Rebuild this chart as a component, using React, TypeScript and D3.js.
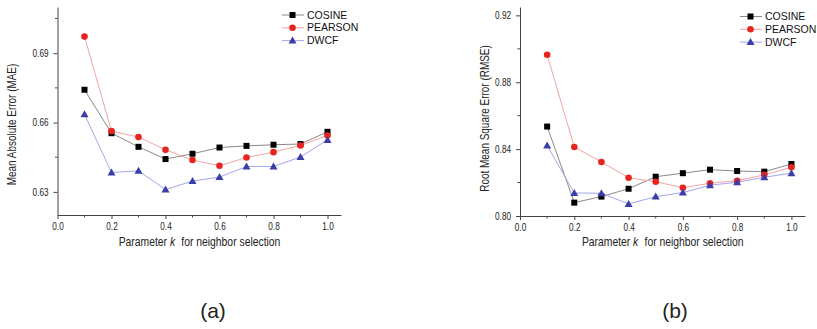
import * as d3 from 'd3';
import { useEffect, useRef } from 'react';

const kValues = [0.1, 0.2, 0.3, 0.4, 0.5, 0.6, 0.7, 0.8, 0.9, 1.0];
const seriesNames = ['COSINE', 'PEARSON', 'DWCF'];

// (a) MAE
const maeCosine = [0.6742, 0.6554, 0.6495, 0.6442, 0.6465, 0.6492, 0.6499, 0.6504, 0.6507, 0.656];
const maePearson = [0.6972, 0.6563, 0.6537, 0.6482, 0.6438, 0.6413, 0.6449, 0.6472, 0.6501, 0.6544];
const maeDwcf = [0.6636, 0.6384, 0.6391, 0.631, 0.6347, 0.6364, 0.641, 0.641, 0.6451, 0.6525];

// (b) RMSE
const rmseCosine = [0.8535, 0.808, 0.8116, 0.8163, 0.8235, 0.8256, 0.8277, 0.8269, 0.8265, 0.8311];
const rmsePearson = [0.8964, 0.8413, 0.8323, 0.8229, 0.8205, 0.8169, 0.8196, 0.8211, 0.8246, 0.8292];
const rmseDwcf = [0.8421, 0.8138, 0.8136, 0.8072, 0.8116, 0.814, 0.8184, 0.8202, 0.8232, 0.8256];

const xTicks = [0, 0.2, 0.4, 0.6, 0.8, 1.0];
const xMinor = [0.1, 0.3, 0.5, 0.7, 0.9];
const maeTicks = [0.63, 0.66, 0.69];
const maeMinor = [0.645, 0.675, 0.705];
const rmseTicks = [0.8, 0.84, 0.88, 0.92];
const rmseMinor = [0.82, 0.86, 0.9];

const styles = [
  { line: '#8a8a8a', fill: '#000000', shape: 'square' },
  { line: '#f6a3a3', fill: '#e8241f', shape: 'circle' },
  { line: '#a3a6f0', fill: '#3a3ea8', shape: 'triangle' },
];

const FONT = 'Liberation Sans, Arial, sans-serif';

type Panel = {
  series: number[][];
  yDomain: [number, number];
  yTicks: number[];
  yMinor: number[];
  yTitle: string;
  x0: number;
  x1: number;
  yTop: number;
  yBottom: number;
  titleX: number;
  titleY: number;
  legendX: number;
  legendY: number;
  tag: string;
  tagX: number;
};

const panels: Panel[] = [
  {
    series: [maeCosine, maePearson, maeDwcf],
    yDomain: [0.62, 0.71],
    yTicks: maeTicks,
    yMinor: maeMinor,
    yTitle: 'Mean Absolute Error (MAE)',
    x0: 57.5,
    x1: 341,
    yTop: 7,
    yBottom: 215,
    titleX: 12,
    titleY: 124.5,
    legendX: 282,
    legendY: 15,
    tag: '(a)',
    tagX: 213,
  },
  {
    series: [rmseCosine, rmsePearson, rmseDwcf],
    yDomain: [0.8, 0.925],
    yTicks: rmseTicks,
    yMinor: rmseMinor,
    yTitle: 'Root Mean Square Error (RMSE)',
    x0: 520,
    x1: 805,
    yTop: 7,
    yBottom: 216,
    titleX: 485,
    titleY: 118.5,
    legendX: 740,
    legendY: 16.5,
    tag: '(b)',
    tagX: 675,
  },
];

function drawMarker(g: d3.Selection<SVGGElement, unknown, null, undefined>, shape: string, x: number, y: number, fill: string) {
  if (shape === 'square') {
    g.append('rect').attr('x', x - 3).attr('y', y - 3).attr('width', 6).attr('height', 6).attr('fill', fill);
  } else if (shape === 'circle') {
    g.append('circle').attr('cx', x).attr('cy', y).attr('r', 3.3).attr('fill', fill);
  } else {
    g.append('path')
      .attr('d', `M${x},${y - 4}L${x + 4},${y + 3}L${x - 4},${y + 3}Z`)
      .attr('fill', fill);
  }
}

function condense(sel: d3.Selection<SVGTextElement, unknown, any, any>, k: number) {
  sel.each(function () {
    const len = this.getComputedTextLength();
    d3.select(this).attr('textLength', len * k).attr('lengthAdjust', 'spacingAndGlyphs');
  });
}

export default function App() {
  const ref = useRef<SVGSVGElement | null>(null);

  useEffect(() => {
    const svg = d3.select(ref.current);
    svg.selectAll('*').remove();

    panels.forEach((p) => {
      const x = d3.scaleLinear().domain([0, 1.05]).range([p.x0, p.x1]);
      const y = d3.scaleLinear().domain(p.yDomain).range([p.yBottom, p.yTop]);
      const g = svg.append('g');

      // x axis
      const xa = g
        .append('g')
        .attr('transform', `translate(0,${p.yBottom})`)
        .call(d3.axisBottom(x).tickValues(xTicks).tickSize(4).tickSizeOuter(0).tickPadding(4).tickFormat(d3.format('.1f')));
      xa.selectAll('line, path').attr('stroke', '#444');
      xa.selectAll('text').attr('font-family', FONT).attr('font-size', 10.5).attr('fill', '#222');
      g.append('g')
        .selectAll('line')
        .data(xMinor)
        .enter()
        .append('line')
        .attr('x1', (d) => x(d))
        .attr('x2', (d) => x(d))
        .attr('y1', p.yBottom)
        .attr('y2', p.yBottom + 2.5)
        .attr('stroke', '#444');

      // y axis
      const ya = g
        .append('g')
        .attr('transform', `translate(${p.x0},0)`)
        .call(d3.axisLeft(y).tickValues(p.yTicks).tickSize(4).tickSizeOuter(0).tickPadding(5).tickFormat(d3.format('.2f')));
      ya.selectAll('line, path').attr('stroke', '#444');
      ya.selectAll('text').attr('font-family', FONT).attr('font-size', 10.5).attr('fill', '#222');
      g.append('g')
        .selectAll('line')
        .data(p.yMinor)
        .enter()
        .append('line')
        .attr('x1', p.x0)
        .attr('x2', p.x0 - 2.5)
        .attr('y1', (d) => y(d))
        .attr('y2', (d) => y(d))
        .attr('stroke', '#444');

      condense(xa.selectAll<SVGTextElement, unknown>('text'), 0.78);
      condense(ya.selectAll<SVGTextElement, unknown>('text'), 0.78);

      // titles (narrowed with a horizontal scale)
      const xt = g
        .append('text')
        .attr('transform', `translate(${(p.x0 + x(1.0)) / 2 + 7},246) scale(0.83,1)`)
        .attr('text-anchor', 'middle')
        .attr('font-family', FONT)
        .attr('font-size', 12.5)
        .attr('fill', '#222');
      xt.append('tspan').text('Parameter ');
      xt.append('tspan').attr('font-style', 'italic').text('k');
      xt.append('tspan').attr('dx', 4).text(' for neighbor selection');

      g.append('text')
        .attr('transform', `translate(${p.titleX + 4},${p.titleY}) rotate(-90) scale(0.83,1)`)
        .attr('text-anchor', 'middle')
        .attr('font-family', FONT)
        .attr('font-size', 12)
        .attr('fill', '#222')
        .text(p.yTitle);

      // series
      const line = d3
        .line<number>()
        .x((_, i) => x(kValues[i]))
        .y((d) => y(d));
      p.series.forEach((vals, si) => {
        const st = styles[si];
        g.append('path').attr('d', line(vals)).attr('fill', 'none').attr('stroke', st.line).attr('stroke-width', 1);
      });
      p.series.forEach((vals, si) => {
        const st = styles[si];
        const mg = g.append('g');
        vals.forEach((v, i) => drawMarker(mg, st.shape, x(kValues[i]), y(v), st.fill));
      });

      // legend
      seriesNames.forEach((name, si) => {
        const st = styles[si];
        const ly = p.legendY + si * 12.8;
        const lg = g.append('g');
        lg.append('line')
          .attr('x1', p.legendX)
          .attr('x2', p.legendX + 22)
          .attr('y1', ly)
          .attr('y2', ly)
          .attr('stroke', st.line);
        drawMarker(lg, st.shape, p.legendX + 10.5, ly, st.fill);
        lg.append('text')
          .attr('x', p.legendX + 25)
          .attr('y', ly)
          .attr('dy', '0.35em')
          .attr('font-family', FONT)
          .attr('font-size', 10.5)
          .attr('fill', '#111')
          .text(name);
      });

      // panel tag
      svg
        .append('text')
        .attr('x', p.tagX)
        .attr('y', 318)
        .attr('text-anchor', 'middle')
        .attr('font-family', FONT)
        .attr('font-size', 21)
        .attr('fill', '#222')
        .text(p.tag);
    });
  }, []);

  return (
    <svg
      ref={ref}
      width={817}
      height={329}
      style={{ position: 'absolute', left: 0, top: 0, background: '#fff' }}
    />
  );
}
